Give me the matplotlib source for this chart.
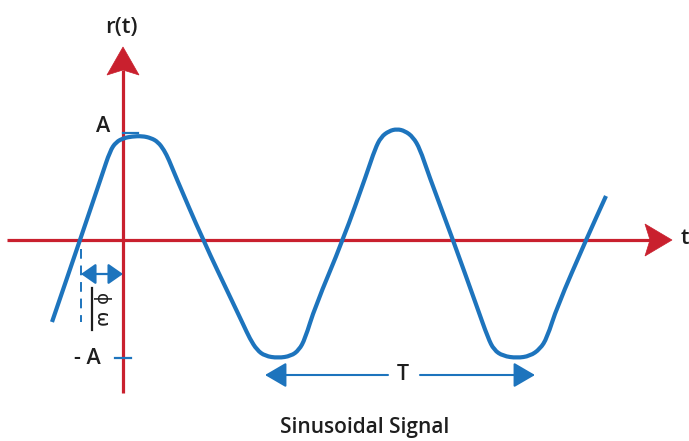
import matplotlib
matplotlib.use("Agg")
import matplotlib.pyplot as plt
from matplotlib.patches import Polygon, FancyArrowPatch, PathPatch
from matplotlib.path import Path

# ---- data (time offset from r-axis, signal value) ----
wave_t = [-71, -43, -21, -13, -7, 1, 9, 19, 28, 35, 41, 46, 52, 80,
          110, 120, 127, 134, 142, 155, 168, 176, 182, 192, 220,
          244, 252, 258, 266, 274, 282, 290, 297, 305, 330,
          354, 365, 371, 380, 394, 407, 417, 424, 434, 463, 483]
wave_r = [-82, 0, 65, 89, 98, 102, 103.5, 104, 102, 98, 90, 80, 65, 0,
          -63, -84, -99, -110, -116, -118, -116, -110, -99, -67, 0,
          67, 91, 103, 109, 111, 109, 103, 91, 67, 0,
          -67, -98, -110, -116, -118, -116, -109, -98, -67, 0, 44]
amp_hi = 107        # level of the "A" tick
amp_lo = -118       # level of the "- A" tick
phase_t = -42       # zero crossing shown by dashed line
period_start = 142
period_end = 412

RED = "#C9202E"
BLUE = "#1D74BD"
TXT = "#1E1E1E"
FONT = ["Open Sans", "DejaVu Sans"]

fig = plt.figure(figsize=(6.89, 4.41), dpi=100)
ax = fig.add_axes([0, 0, 1, 1])
ax.set_xlim(-123, 566)
ax.set_ylim(-201, 240)
ax.axis("off")

# axes
ax.plot([-116, 528], [0, 0], color=RED, lw=2.3, solid_capstyle="butt", zorder=2)
ax.plot([0, 0], [-153, 170], color=RED, lw=2.3, solid_capstyle="butt", zorder=2)
ax.add_patch(Polygon([(549, 0), (522, 16), (527, 0), (522, -16)], closed=True,
                     facecolor=RED, edgecolor=RED, lw=0.5, zorder=3))
ax.add_patch(Polygon([(0, 193), (-16, 165), (0, 170), (16, 165)], closed=True,
                     facecolor=RED, edgecolor=RED, lw=0.5, zorder=3))

# wave: smooth quadratic path through the read points
pts = list(zip(wave_t, wave_r))
verts = [pts[0]]
codes = [Path.MOVETO]
mid = lambda a, b: ((a[0] + b[0]) / 2, (a[1] + b[1]) / 2)
verts.append(mid(pts[0], pts[1])); codes.append(Path.LINETO)
for i in range(1, len(pts) - 1):
    verts += [pts[i], mid(pts[i], pts[i + 1])]
    codes += [Path.CURVE3, Path.CURVE3]
verts.append(pts[-1]); codes.append(Path.LINETO)
ax.add_patch(PathPatch(Path(verts, codes), facecolor="none", edgecolor=BLUE,
                       lw=3.0, capstyle="butt", joinstyle="round", zorder=4))

# amplitude ticks
ax.plot([0, 15], [amp_hi, amp_hi], color=BLUE, lw=1.6, zorder=3)
ax.plot([-8, 8], [amp_lo, amp_lo], color=BLUE, lw=1.6, zorder=3)

# phase marker
ax.plot([phase_t, phase_t], [-9, -82], color=BLUE, lw=1.4, ls=(0, (5, 3.5)), zorder=3)
ax.add_patch(FancyArrowPatch((phase_t, -34), (0, -34), arrowstyle="<|-|>,head_length=5,head_width=3.5",
                             mutation_scale=1.8, color=BLUE, lw=1.6, shrinkA=0, shrinkB=0, zorder=5))

# period arrows
ax.add_patch(FancyArrowPatch((265, -135), (period_start, -135), arrowstyle="-|>,head_length=6,head_width=3.5",
                             mutation_scale=2.2, color=BLUE, lw=1.5, shrinkA=0, shrinkB=0))
ax.add_patch(FancyArrowPatch((297, -135), (period_end, -135), arrowstyle="-|>,head_length=6,head_width=3.5",
                             mutation_scale=2.2, color=BLUE, lw=1.5, shrinkA=0, shrinkB=0))

# labels
kw = dict(color=TXT, family=FONT, fontweight="semibold", ha="center", va="center")
ax.text(-2, 212, "r(t)", fontsize=16, **kw)
ax.text(-20, 113, "A", fontsize=15.5, **kw)
ax.text(-36, -118, "- A", fontsize=15.5, **kw)
ax.text(280, -135, "T", fontsize=15.5, **kw)
ax.text(562, 1, "t", fontsize=15.5, **kw)
ax.text(242, -188, "Sinusoidal Signal", fontsize=15, **kw)
ax.text(-22, -59, "ϕ", fontsize=13, color=TXT, family=["DejaVu Sans"],
        rotation=-90, ha="center", va="center")
ax.text(-22, -79, "ω", fontsize=13, color=TXT, family=FONT, fontweight="semibold",
        rotation=-90, ha="center", va="center")
ax.plot([-31, -31], [-48, -90], color=TXT, lw=1.6)

fig.savefig("out.png", dpi=100)
